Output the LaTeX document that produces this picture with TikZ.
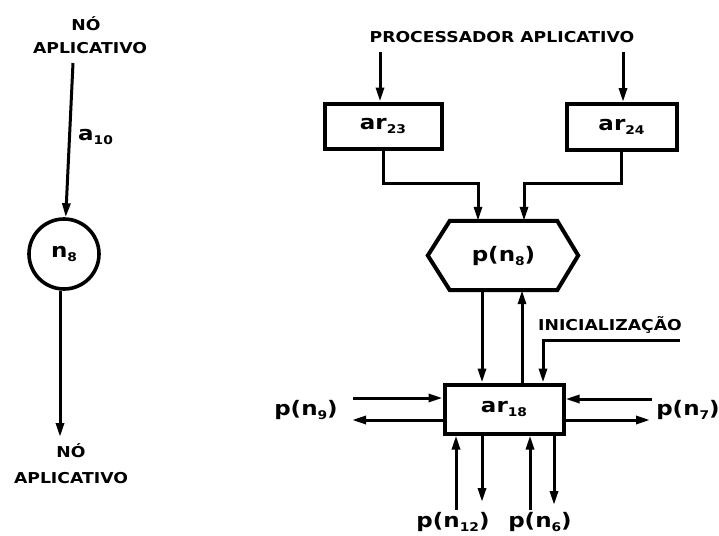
\documentclass[tikz,border=0pt]{standalone}
\usepackage{fontspec}
\usetikzlibrary{arrows.meta}
\newfontfamily\dfont{DejaVu Sans}[FakeStretch=1.15]
\newcommand\mysub[1]{\raisebox{-4pt}{\fontsize{12}{12}\selectfont #1}}
\tikzset{
  caps/.style={font=\dfont\bfseries\fontsize{15}{18}\selectfont, inner sep=0pt, anchor=base},
  lbl/.style={font=\dfont\bfseries\fontsize{20}{24}\selectfont, inner sep=0pt},
  box/.style={draw, line width=4pt, inner sep=0pt, lbl},
  arr/.style={line width=3pt, -{Triangle[length=14pt,width=8pt]}},
  ln/.style={line width=3pt}
}
\begin{document}
\begin{tikzpicture}[x=1pt,y=-1pt]
\useasboundingbox (0,0) rectangle (719,535);
% ---------- left part ----------
\node[caps] (tNo) at (86,31) {NÓ};
\node[caps] (tAp) at (90,53) {APLICATIVO};
\coordinate (ltop) at (73,63);
\node[draw, circle, line width=3.6pt, minimum size=70pt, inner sep=0pt, lbl] (circ) at (64,254) {n\mysub{8}};
\draw[arr] (ltop) -- (circ);
\node[lbl, anchor=base west] (a10) at (78,140) {a\mysub{10}};
\coordinate (lbot) at (60,437);
\draw[arr] (circ.south -| lbot) -- (lbot);
\node[caps] (bNo) at (71,457) {NÓ};
\node[caps] (bAp) at (71,483) {APLICATIVO};
% ---------- right part ----------
\node[caps] (proc) at (502,43) {PROCESSADOR APLICATIVO};
\node[box, minimum width=117pt, minimum height=45pt] (ar23) at (383,126) {ar\mysub{23}};
\node[box, minimum width=110pt, minimum height=46pt] (ar24) at (621.5,127) {ar\mysub{24}};
\coordinate (pa1) at (380,52);
\coordinate (pa2) at (623,52);
\draw[arr] (pa1) -- (pa1 |- ar23.north);
\draw[arr] (pa2) -- (pa2 |- ar24.north);
% hexagon
\node[lbl, minimum width=107pt, minimum height=69pt] (p8) at (503.5,255.5) {p(n\mysub{8})};
\draw[line width=4pt, line join=miter] (p8.north west) -- (p8.north east) -- ([xshift=21pt]p8.east) -- (p8.south east) -- (p8.south west) -- ([xshift=-22pt]p8.west) -- cycle;
\coordinate (j1) at (478,183);
\coordinate (j2) at (524,183);
\draw[arr] (ar23.south) |- (j1) -- (j1 |- p8.north);
\draw[arr] (ar24.south) |- (j2) -- (j2 |- p8.north);
% ar18
\node[box, minimum width=119pt, minimum height=49pt] (ar18) at (504,409) {ar\mysub{18}};
\coordinate (d1) at (482,300);
\coordinate (u1) at (522,300);
\draw[arr] (p8.south -| d1) -- (ar18.north -| d1);
\draw[arr] (ar18.north -| u1) -- (p8.south -| u1);
\node[caps] (ini) at (610,330) {INICIALIZAÇÃO};
\coordinate (inis) at (680,340);
\coordinate (i1) at (543,360);
\draw[arr] (inis) -| (ar18.north -| i1);
% left side
\node[lbl, anchor=base] (p9) at (306,415) {p(n\mysub{9})};
\coordinate (l1) at (353,398);
\coordinate (l2) at (352,420);
\draw[arr] (l1) -- (l1 -| ar18.west);
\draw[arr] (ar18.west |- l2) -- (l2);
% right side
\node[lbl, anchor=base] (p7) at (688,415) {p(n\mysub{7})};
\coordinate (r1) at (652,399);
\coordinate (r2) at (650,420);
\draw[arr] (r1) -- (r1 -| ar18.east);
\draw[arr] (ar18.east |- r2) -- (r2);
% bottom
\coordinate (b1) at (456,510);
\coordinate (b2) at (482,502);
\coordinate (b3) at (530,510);
\coordinate (b4) at (554,505);
\draw[arr] (b1) -- (b1 |- ar18.south);
\draw[arr] (ar18.south -| b2) -- (b2);
\draw[arr] (b3) -- (b3 |- ar18.south);
\draw[arr] (ar18.south -| b4) -- (b4);
\node[lbl, anchor=base] (p12) at (453,527) {p(n\mysub{12})};
\node[lbl, anchor=base] (p6) at (540,527) {p(n\mysub{6})};
\end{tikzpicture}
\end{document}
